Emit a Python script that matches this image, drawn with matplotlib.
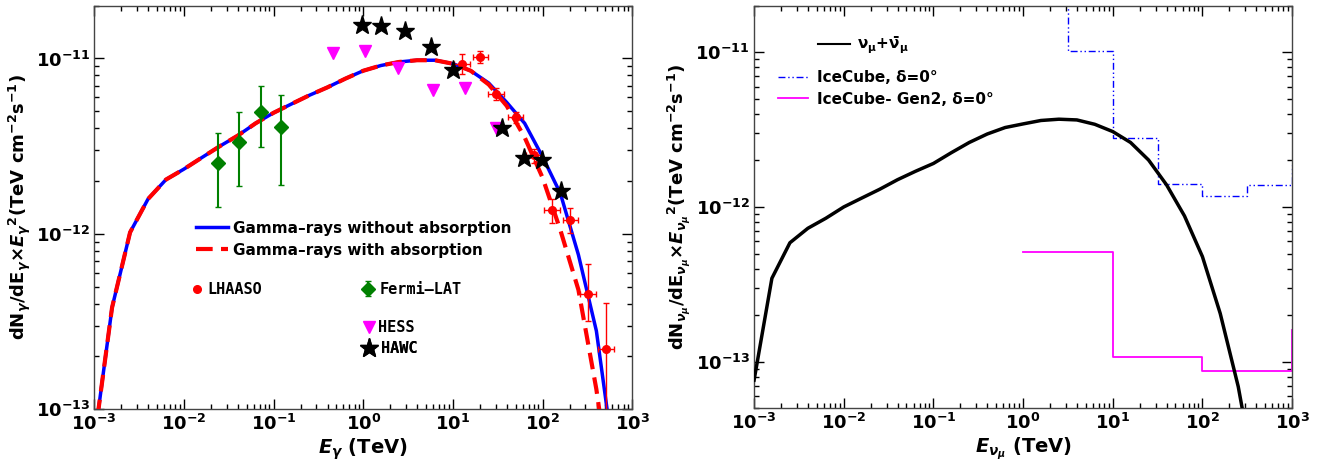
import matplotlib
matplotlib.use("Agg")
import matplotlib.pyplot as plt

plt.rcParams["font.family"] = ["DejaVu Sans"]
plt.rcParams["font.weight"] = "bold"
plt.rcParams["axes.labelweight"] = "bold"
plt.rcParams["mathtext.fontset"] = "custom"
plt.rcParams["mathtext.rm"] = "DejaVu Sans:bold"
plt.rcParams["mathtext.bf"] = "DejaVu Sans:bold"
plt.rcParams["mathtext.it"] = "DejaVu Sans:bold:italic"
plt.rcParams["mathtext.sf"] = "DejaVu Sans:bold"

# ---- model curves (energy grid in TeV) ----
energy = [1e-3, 1.58e-3, 2.51e-3, 3.98e-3, 6.31e-3, 0.01, 0.0158, 0.0251, 0.0398, 0.0631,
          0.1, 0.158, 0.251, 0.398, 0.631, 1.0, 1.58, 2.51, 3.98, 6.31,
          10.0, 15.8, 25.1, 39.8, 63.1, 100.0, 158.0, 251.0, 398.0, 631.0]
gamma_flux = [6.6e-14, 3.8e-13, 1.02e-12, 1.58e-12, 2.04e-12, 2.34e-12, 2.72e-12, 3.16e-12, 3.63e-12, 4.27e-12,
              4.90e-12, 5.50e-12, 6.17e-12, 6.84e-12, 7.67e-12, 8.51e-12, 9.12e-12, 9.55e-12, 9.77e-12, 9.77e-12,
              9.33e-12, 8.51e-12, 7.24e-12, 5.62e-12, 4.27e-12, 2.75e-12, 1.70e-12, 7.6e-13, 2.8e-13, 5.0e-14]
gamma_abs_flux = [6.6e-14, 3.8e-13, 1.02e-12, 1.58e-12, 2.04e-12, 2.34e-12, 2.72e-12, 3.16e-12, 3.63e-12, 4.27e-12,
                  4.90e-12, 5.50e-12, 6.17e-12, 6.84e-12, 7.67e-12, 8.51e-12, 9.12e-12, 9.55e-12, 9.77e-12, 9.77e-12,
                  9.33e-12, 8.51e-12, 7.1e-12, 5.37e-12, 3.55e-12, 2.09e-12, 1.05e-12, 4.8e-13, 1.3e-13, 2.5e-14]
nu_flux = [7.6e-14, 3.46e-13, 5.87e-13, 7.28e-13, 8.45e-13, 1.0e-12, 1.14e-12, 1.30e-12, 1.50e-12, 1.70e-12,
           1.91e-12, 2.24e-12, 2.61e-12, 2.96e-12, 3.26e-12, 3.44e-12, 3.62e-12, 3.69e-12, 3.65e-12, 3.42e-12,
           3.07e-12, 2.61e-12, 2.01e-12, 1.39e-12, 8.75e-13, 4.78e-13, 2.05e-13, 6.9e-14, 1.6e-14]

# ---- measurements ----
lhaaso_E = [12.7, 20.3, 30.4, 49.9, 79.6, 127.6, 204.0, 320.0, 508.0]
lhaaso_E_lo = [10.4, 16.6, 24.9, 40.8, 65.1, 104.0, 167.0, 262.0, 415.0]
lhaaso_E_hi = [15.5, 24.8, 37.2, 61.0, 97.3, 156.0, 249.0, 391.0, 621.0]
lhaaso_F = [9.29e-12, 1.022e-11, 6.26e-12, 4.63e-12, 2.82e-12, 1.36e-12, 1.20e-12, 4.52e-13, 2.20e-13]
lhaaso_F_lo = [8.15e-12, 9.37e-12, 5.80e-12, 4.31e-12, 2.53e-12, 1.155e-12, 1.01e-12, 3.2e-13, 9.0e-14]
lhaaso_F_hi = [1.055e-11, 1.106e-11, 6.76e-12, 4.98e-12, 3.04e-12, 1.58e-12, 1.41e-12, 6.7e-13, 4.06e-13]

fermi_E = [0.0243, 0.0408, 0.0716, 0.121]
fermi_F = [2.52e-12, 3.36e-12, 4.93e-12, 4.05e-12]
fermi_F_lo = [1.43e-12, 1.88e-12, 3.13e-12, 1.9e-12]
fermi_F_hi = [3.74e-12, 4.97e-12, 6.96e-12, 6.2e-12]

hess_E = [0.457, 1.04, 2.43, 6.0, 13.6, 29.9]
hess_F = [1.07e-11, 1.1e-11, 8.77e-12, 6.6e-12, 6.76e-12, 4.0e-12]

hawc_E = [0.97, 1.58, 2.93, 5.65, 10.1, 35.4, 61.7, 98.7, 162.0]
hawc_F = [1.55e-11, 1.53e-11, 1.43e-11, 1.155e-11, 8.58e-12, 4.0e-12, 2.7e-12, 2.64e-12, 1.76e-12]

# ---- neutrino sensitivities (bin edges, TeV) ----
icecube_E = [1.0, 3.16, 10.0, 31.6, 100.0, 316.0, 1000.0]
icecube_F = [5e-11, 1.02e-11, 2.77e-12, 1.40e-12, 1.17e-12, 1.39e-12, 1.86e-12]
gen2_E = [1.0, 10.0, 100.0, 1000.0]
gen2_F = [5.14e-13, 1.08e-13, 8.7e-14, 1.6e-13]


def style_axes(ax):
    ax.set_xscale("log")
    ax.set_yscale("log")
    ax.set_xlim(1e-3, 1e3)
    ax.tick_params(which="both", direction="in", top=True, right=True, width=1.0,
                   labelsize=13, pad=3)
    ax.tick_params(which="major", length=7)
    ax.tick_params(which="minor", length=3.5)
    for s in ax.spines.values():
        s.set_color("#444444")
        s.set_linewidth(1.0)


fig = plt.figure(figsize=(13.33, 4.71), dpi=100)
ax1 = fig.add_axes([0.0707, 0.131, 0.4036, 0.857])
ax2 = fig.add_axes([0.5657, 0.1331, 0.4036, 0.855])

# ---------------- left panel ----------------
style_axes(ax1)
ax1.set_ylim(1e-13, 2e-11)
l_blue, = ax1.plot(energy, gamma_flux, color="blue", lw=2.5, zorder=2)
l_red, = ax1.plot(energy, gamma_abs_flux, color="red", lw=3, dashes=(4, 2), zorder=3)

yerr = [[f - lo for f, lo in zip(lhaaso_F, lhaaso_F_lo)], [hi - f for f, hi in zip(lhaaso_F, lhaaso_F_hi)]]
xerr = [[e - lo for e, lo in zip(lhaaso_E, lhaaso_E_lo)], [hi - e for e, hi in zip(lhaaso_E, lhaaso_E_hi)]]
lh = ax1.errorbar(lhaaso_E, lhaaso_F, yerr=yerr, xerr=xerr, fmt="o", color="red", ms=5.5,
                  elinewidth=1, capsize=2.5, zorder=4)

yerr_f = [[f - lo for f, lo in zip(fermi_F, fermi_F_lo)], [hi - f for f, hi in zip(fermi_F, fermi_F_hi)]]
fh = ax1.errorbar(fermi_E, fermi_F, yerr=yerr_f, fmt="D", color="green", ms=7,
                  elinewidth=1.5, capsize=2.5, zorder=4)
hh, = ax1.plot(hess_E, hess_F, "v", color="magenta", ms=9, ls="none", zorder=4)
sh, = ax1.plot(hawc_E, hawc_F, "*", color="black", ms=14, ls="none", zorder=5)

leg = ax1.legend([l_blue, l_red], ["Gamma\u2013rays without absorption", "Gamma\u2013rays with absorption"],
                 loc="center left", bbox_to_anchor=(0.189, 0.4215), frameon=False,
                 borderpad=0, borderaxespad=0, handlelength=2.07, handletextpad=0.35,
                 labelspacing=0.45, prop={"size": 11, "weight": "bold"})
ax1.add_artist(leg)

mono = {"family": "DejaVu Sans Mono", "weight": "bold", "size": 11}
for handle, name, anchor, pad in [
    (lh[0], "LHAASO", (0.176, 0.296), 0.2),
    (fh, "Fermi\u2013LAT", (0.495, 0.297), 0.25),
    (hh, "HESS", (0.497, 0.202), 0.05),
    (sh, "HAWC", (0.497, 0.151), 0.25),
]:
    lg = ax1.legend([handle], [name], loc="center left", bbox_to_anchor=anchor, frameon=False,
                    borderpad=0, borderaxespad=0, handlelength=1.0, handletextpad=pad, prop=mono)
    ax1.add_artist(lg)

ax1.set_xlabel(r"$E_\gamma$ (TeV)", fontsize=14, labelpad=2)
ax1.set_ylabel(r"dN$_\gamma$/dE$_\gamma$$\times$$E_\gamma$$^2$(TeV cm$^{-2}$s$^{-1}$)", fontsize=13, labelpad=2)

# ---------------- right panel ----------------
style_axes(ax2)
ax2.set_ylim(5e-14, 2e-11)
nu_line, = ax2.plot(energy[:len(nu_flux)], nu_flux, color="black", lw=2.5, zorder=3)
ic_line, = ax2.step(icecube_E, icecube_F, where="post", color="blue", lw=1.0,
                    ls=(0, (5, 2, 1, 2, 1, 2)), zorder=2)
g2_line, = ax2.step(gen2_E, gen2_F, where="post", color="magenta", lw=1.3, zorder=2)

leg_a = ax2.legend([nu_line], [r"$\mathrm{\nu_\mu}$+$\mathrm{\bar{\nu}_\mu}$"], loc="center left",
                   bbox_to_anchor=(0.119, 0.902), frameon=False, borderpad=0, borderaxespad=0,
                   handlelength=2.07, handletextpad=0.45, prop={"size": 11, "weight": "bold"})
leg_a.get_lines()[0].set_linewidth(1.5)
ax2.add_artist(leg_a)
leg_b = ax2.legend([ic_line, g2_line], ["IceCube, \u03b4=0\u00b0", "IceCube- Gen2, \u03b4=0\u00b0"],
                   loc="center left", bbox_to_anchor=(0.045, 0.7945), frameon=False, borderpad=0,
                   borderaxespad=0, handlelength=1.93, handletextpad=0.6, labelspacing=0.45,
                   prop={"size": 11, "weight": "bold"})

ax2.set_xlabel(r"$E_{\nu_\mu}$ (TeV)", fontsize=14, labelpad=2)
ax2.set_ylabel(r"dN$_{\nu_\mu}$/dE$_{\nu_\mu}$$\times$$E_{\nu_\mu}$$^2$(TeV cm$^{-2}$s$^{-1}$)",
               fontsize=13, labelpad=2)

fig.savefig("out.png", dpi=100)
